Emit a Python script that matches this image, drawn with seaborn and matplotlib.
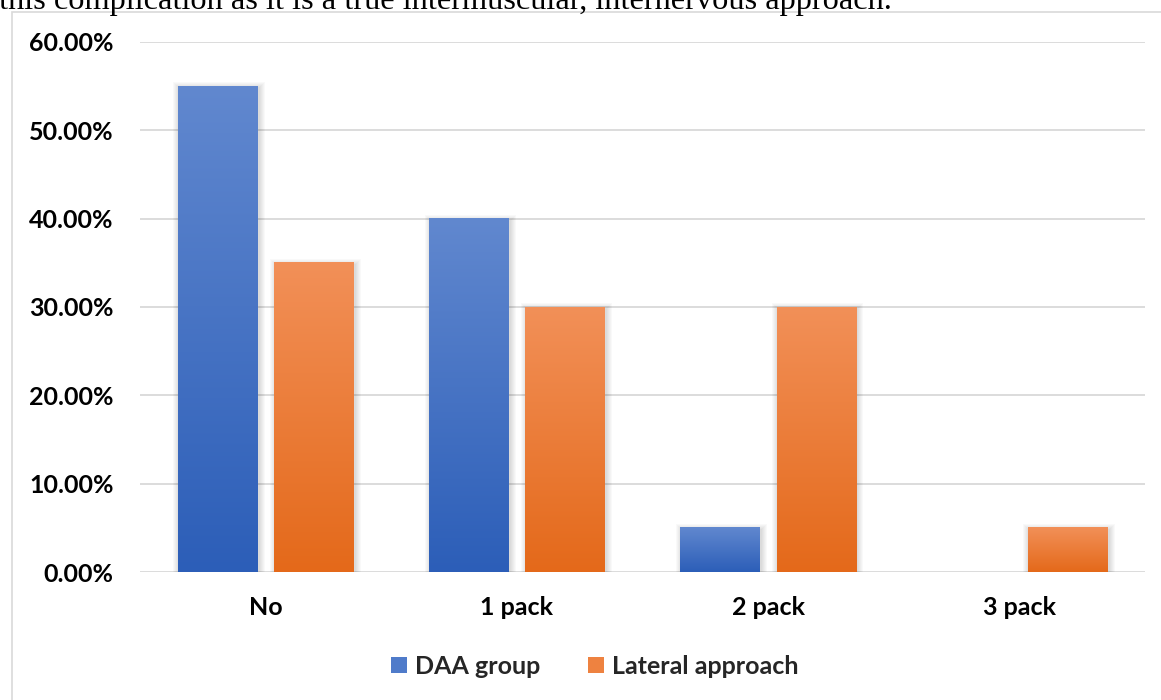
import numpy as np
import pandas as pd
import matplotlib
matplotlib.use("Agg")
import matplotlib.pyplot as plt
from matplotlib.patches import Rectangle, Patch
from matplotlib.ticker import PercentFormatter
import seaborn as sns

# ---- data -------------------------------------------------------------
categories = ["No", "1 pack", "2 pack", "3 pack"]
daa_group = [0.55, 0.40, 0.05, 0.00]
lateral_approach = [0.35, 0.30, 0.30, 0.05]
series_names = ["DAA group", "Lateral approach"]
caption = "this complication as it is a true intermuscular, internervous approach."

df = pd.DataFrame({
    "category": categories * 2,
    "share": daa_group + lateral_approach,
    "group": [series_names[0]] * len(categories) + [series_names[1]] * len(categories),
})

# ---- style ------------------------------------------------------------
sns.set_theme(style="white")
plt.rcParams["font.family"] = ["Lato", "DejaVu Sans"]
plt.rcParams["font.weight"] = "bold"
LABEL_SIZE = 18

W, H, DPI = 1161, 700, 100
fig = plt.figure(figsize=(W / DPI, H / DPI), dpi=DPI)
fig.patch.set_facecolor("white")

ax_left, ax_right, ax_top, ax_bottom = 140, 1145, 42, 572
ax = fig.add_axes([ax_left / W, 1 - ax_bottom / H,
                   (ax_right - ax_left) / W, (ax_bottom - ax_top) / H])

base_colors = ["#4472C4", "#ED7D31"]
grad_colors = {
    "#4472C4": ("#6188CF", "#2C5EB8"),
    "#ED7D31": ("#F29058", "#E4691A"),
}

sns.barplot(data=df, x="category", y="share", hue="group",
            palette=base_colors, width=0.766, gap=0.177,
            ax=ax, legend=False, saturation=1, linewidth=0)

ax.set_xlim(-0.5, len(categories) - 0.5)
ax.set_ylim(0, 0.60)
ax.set_yticks(np.arange(0, 0.61, 0.10))
ax.yaxis.set_major_formatter(PercentFormatter(xmax=1, decimals=2))
ax.grid(axis="y", color="#D9D9D9", linewidth=1.3)
ax.grid(axis="x", visible=False)
ax.set_axisbelow(True)
for s in ax.spines.values():
    s.set_visible(False)
ax.tick_params(axis="both", length=0, labelsize=LABEL_SIZE, colors="black")
ax.tick_params(axis="y", pad=19)
ax.tick_params(axis="x", pad=17)
for lbl in ax.get_xticklabels() + ax.get_yticklabels():
    lbl.set_fontweight("bold")
ax.set_xlabel("")
ax.set_ylabel("")

# ---- gradient fill + soft shadow on each bar --------------------------
px_x = 1.0 / ((ax_right - ax_left) / len(categories))
px_y = 0.60 / (ax_bottom - ax_top)
grad = np.linspace(0, 1, 256).reshape(-1, 1)
bars = list(ax.patches)
for bar in bars:
    x0, y0 = bar.get_x(), bar.get_y()
    w, h = bar.get_width(), bar.get_height()
    if h <= 0:
        bar.set_visible(False)
        continue
    fc = matplotlib.colors.to_hex(bar.get_facecolor()).upper()
    key = min(grad_colors, key=lambda k: np.sum(np.abs(
        np.array(matplotlib.colors.to_rgb(k)) - np.array(matplotlib.colors.to_rgb(fc)))))
    top, bottom = grad_colors[key]
    cmap = matplotlib.colors.LinearSegmentedColormap.from_list("g", [bottom, top])
    # shadow
    for i in range(1, 7):
        ax.add_patch(Rectangle((x0 - i * px_x + 1.5 * px_x, y0 - i * px_y),
                               w + 2 * i * px_x, h + 2 * i * px_y - 2 * px_y,
                               facecolor="black", edgecolor="none",
                               alpha=0.025, zorder=2))
    ax.imshow(grad, extent=(x0, x0 + w, y0, y0 + h), origin="lower",
              cmap=cmap, aspect="auto", zorder=3, interpolation="bilinear")
    bar.set_facecolor("none")
    bar.set_zorder(4)

ax.set_xlim(-0.5, len(categories) - 0.5)
ax.set_ylim(0, 0.60)

# ---- legend -----------------------------------------------------------
handles = [Patch(facecolor=c, edgecolor="none") for c in
           ["#4F7BCA", "#EE8240"]]
fig.legend(handles, series_names, loc="center", ncol=2,
           bbox_to_anchor=(595 / W, 1 - 666 / H), frameon=False,
           prop={"family": ["Lato", "DejaVu Sans"], "weight": "bold", "size": LABEL_SIZE},
           handlelength=0.62, handleheight=0.62, handletextpad=0.35,
           columnspacing=1.9)

# ---- chart frame and running text above it ----------------------------
fig.patches.append(Rectangle((11.5 / W, -0.1), 1.2, 1.1 - 11.5 / H,
                             transform=fig.transFigure, facecolor="none",
                             edgecolor="#D9D9D9", linewidth=1.2, zorder=0))
fig.text(-1 / W, 1 - 8.5 / H, caption, family="Liberation Serif",
         fontweight="normal", fontsize=23.3, va="baseline", ha="left", color="black")

fig.savefig("out.png", dpi=DPI)
